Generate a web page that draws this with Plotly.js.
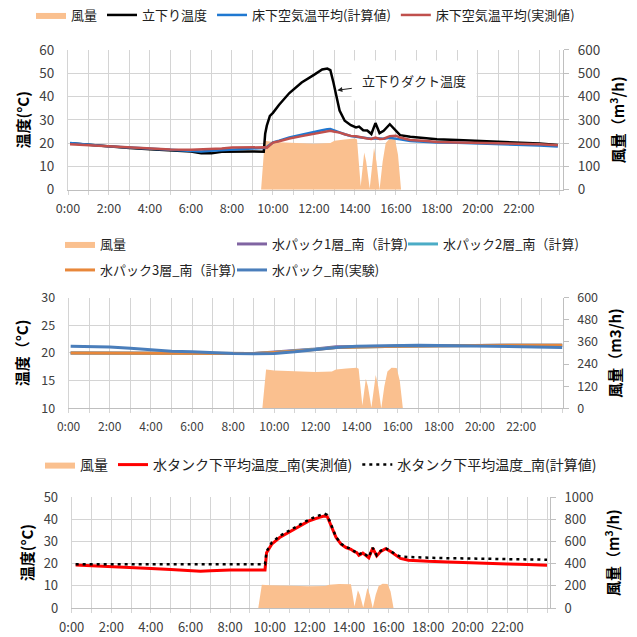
<!DOCTYPE html>
<html><head><meta charset="utf-8">
<script src="https://cdn.plot.ly/plotly-3.0.1.min.js"></script>
<style>html,body{margin:0;padding:0;background:#fff}#chart{width:637px;height:637px}</style>
</head><body><div id="chart"></div>
<script>
// ---- tick labels ----
const hourTicks = [0, 2, 4, 6, 8, 10, 12, 14, 16, 18, 20, 22];
const hourLabels = ["0:00", "2:00", "4:00", "6:00", "8:00", "10:00", "12:00", "14:00", "16:00", "18:00", "20:00", "22:00"];

// ---- airflow (風量, m3/h) ----
const flowHours = [9.42, 9.6, 10.0, 11.0, 12.0, 12.8, 13.0, 13.5, 14.0, 14.1, 14.28, 14.45, 14.55, 14.72, 14.93, 15.05, 15.2, 15.35, 15.5, 15.7, 15.95, 16.1, 16.25];
const flowValues = [0, 210, 205, 200, 197, 200, 210, 216, 220, 215, 15, 160, 120, 5, 180, 120, 0, 120, 200, 220, 218, 150, 0];

// ---- top chart ----
const topHours = [0.1, 1, 2, 3, 4, 5, 6, 6.5, 7, 7.5, 8, 9, 9.55, 9.62, 9.7, 9.85, 10, 10.3, 10.8, 11.4, 12, 12.4, 12.65, 12.8, 12.95, 13.1, 13.25, 13.5, 13.8, 14.05, 14.2, 14.4, 14.6, 14.8, 15.0, 15.2, 15.4, 15.7, 16.0, 16.2, 16.7, 17.5, 18, 19, 20, 21, 22, 23, 23.9];
const ductTemp = [19.9, 19.2, 18.4, 17.9, 17.4, 16.9, 16.4, 15.6, 15.6, 16.3, 16.4, 16.4, 16.3, 24.0, 27.5, 31.7, 33.0, 36.5, 41.5, 46.0, 49.3, 51.6, 52.0, 51.3, 46.0, 40.3, 34.0, 29.6, 27.7, 26.7, 27.1, 25.5, 25.4, 23.9, 28.6, 24.3, 25.3, 28.1, 25.3, 23.4, 22.7, 22.0, 21.7, 21.3, 21.0, 20.6, 20.3, 19.8, 19.2];
const floorCalc = [20.0, 19.3, 18.6, 18.1, 17.6, 17.0, 16.4, 16.4, 16.7, 17.0, 17.4, 17.7, 17.9, 17.9, 18.3, 19.3, 20.3, 21.0, 22.4, 23.6, 24.9, 25.5, 25.9, 26.0, 25.6, 25.0, 24.6, 23.8, 23.0, 22.7, 22.5, 22.3, 22.1, 21.9, 22.1, 21.9, 21.9, 22.3, 22.0, 21.6, 20.9, 20.5, 20.3, 20.1, 19.9, 19.7, 19.3, 19.0, 18.5];
const floorMeas = [19.5, 19.1, 18.6, 18.1, 17.6, 17.3, 17.1, 17.2, 17.3, 17.7, 18.1, 18.3, 18.4, 18.2, 18.0, 19.0, 20.2, 20.8, 22.0, 23.0, 24.1, 24.8, 25.2, 25.3, 25.0, 24.8, 24.5, 23.8, 23.1, 22.9, 22.6, 22.3, 22.0, 21.8, 22.4, 21.8, 21.9, 23.0, 23.2, 22.4, 21.3, 20.9, 20.5, 20.3, 20.1, 20.0, 19.8, 19.5, 19.1];

// ---- middle chart ----
const midHours = [0.1, 1, 2, 3, 4, 5, 6, 7, 8, 9, 10, 11, 12, 13, 14, 15, 16, 17, 18, 19, 20, 21, 22, 23, 24];
const pack1Calc = [20.0, 20.0, 20.0, 20.0, 19.95, 19.95, 19.95, 19.9, 19.9, 19.9, 20.15, 20.4, 20.7, 21.1, 21.15, 21.2, 21.25, 21.3, 21.3, 21.35, 21.35, 21.4, 21.4, 21.4, 21.4];
const pack2Calc = [20.0, 20.0, 20.0, 20.0, 19.95, 19.95, 19.95, 19.9, 19.9, 19.9, 20.1, 20.35, 20.65, 21.0, 21.1, 21.15, 21.2, 21.25, 21.3, 21.35, 21.35, 21.4, 21.4, 21.4, 21.4];
const pack3Calc = [20.0, 20.0, 20.0, 20.0, 19.95, 19.95, 19.95, 19.9, 19.9, 19.9, 20.1, 20.3, 20.6, 21.0, 21.1, 21.15, 21.2, 21.25, 21.3, 21.35, 21.35, 21.4, 21.4, 21.4, 21.4];
const packMeas = [21.2, 21.15, 21.05, 20.85, 20.6, 20.3, 20.2, 20.0, 19.9, 19.85, 19.9, 20.2, 20.6, 21.0, 21.2, 21.3, 21.3, 21.4, 21.35, 21.3, 21.3, 21.25, 21.2, 21.1, 21.0];

// ---- bottom chart ----
const botHours = [0.2, 1, 2, 3, 4, 5, 6, 6.5, 7, 8, 9, 9.76, 9.84, 10.1, 10.5, 11, 11.5, 12, 12.5, 12.75, 12.9, 13.1, 13.35, 13.6, 13.85, 14.1, 14.25, 14.4, 14.5, 14.7, 15.0, 15.2, 15.4, 15.6, 15.85, 16.1, 16.35, 16.6, 17.0, 17.5, 18, 19, 20, 21, 22, 23, 24];
const tankMeas = [19.4, 19.0, 18.7, 18.3, 17.8, 17.4, 16.9, 16.6, 16.8, 17.2, 17.2, 17.2, 25.0, 28.8, 31.8, 34.4, 36.8, 39.4, 40.9, 41.5, 41.3, 37.1, 31.8, 28.8, 27.3, 26.5, 25.5, 25.0, 23.8, 24.8, 22.7, 27.0, 23.5, 25.5, 26.8, 25.5, 23.8, 22.4, 21.6, 21.3, 21.1, 20.8, 20.4, 20.2, 19.9, 19.6, 19.3];
const tankCalc = [19.8, 19.8, 19.8, 19.8, 19.8, 19.8, 19.8, 19.8, 19.8, 19.8, 19.8, 19.8, 25.5, 29.5, 32.5, 35.0, 37.5, 40.0, 41.8, 42.6, 42.0, 37.5, 32.0, 29.0, 27.5, 26.7, 25.8, 25.2, 24.2, 25.0, 23.0, 27.2, 23.8, 25.8, 27.0, 25.8, 24.2, 23.2, 23.0, 22.9, 22.7, 22.5, 22.3, 22.2, 22.0, 21.9, 21.8];

const FONT = "Noto Sans CJK JP, Noto Sans, sans-serif";
const GRID = "#D4D4D4";
const AREA = "#FAC08F";

function xAx(domain, anchor, range, fs) {
  return {
    domain: domain, anchor: anchor, range: range, tickmode: "array",
    tickvals: hourTicks, ticktext: hourLabels, showgrid: true, gridcolor: GRID, gridwidth: 1,
    ticks: "outside", ticklen: 4, tickcolor: GRID, showline: true, linecolor: "#BFBFBF",
    zeroline: false, ticklabelstandoff: 3,
    tickfont: {family: FONT, size: fs, color: "#404040"},
    minor: {tickmode: "linear", tick0: 0, dtick: 1, showgrid: true, gridcolor: GRID, gridwidth: 1, ticks: "outside", ticklen: 4, tickcolor: GRID}
  };
}
function flowAx(domain, anchor, range, dtick, title, fs, so) {
  return {
    domain: domain, anchor: anchor, side: "right", range: range, dtick: dtick, tick0: 0,
    showgrid: false, zeroline: false, showline: true, linecolor: "#BFBFBF",
    ticks: "outside", ticklen: 5, tickcolor: "#BFBFBF", ticklabelstandoff: 6,
    tickfont: {family: FONT, size: fs, color: "#404040"},
    title: {text: title, standoff: so, font: {family: FONT, size: 15, color: "#000", weight: "bold"}}
  };
}
function tempAx(overlay, anchor, range, dtick, title, fs, so) {
  return {
    overlaying: overlay, anchor: anchor, side: "left", range: range, dtick: dtick, tick0: 0,
    showgrid: true, gridcolor: GRID, gridwidth: 1, zeroline: false, showline: true, linecolor: GRID,
    ticks: "", ticklabelstandoff: 10,
    tickfont: {family: FONT, size: fs, color: "#404040"},
    title: {text: title, standoff: so, font: {family: FONT, size: 15, color: "#000", weight: "bold"}}
  };
}
function py(p) { return 1 - p / 637; }

const data = [
  // top
  {x: flowHours, y: flowValues, xaxis: "x", yaxis: "y", type: "scatter", mode: "lines", fill: "tozeroy",
   fillcolor: AREA, line: {width: 0, color: AREA}, name: "風量", legend: "legend"},
  {x: topHours, y: ductTemp, xaxis: "x", yaxis: "y2", type: "scatter", mode: "lines",
   line: {color: "#000000", width: 2.5}, name: "立下り温度", legend: "legend"},
  {x: topHours, y: floorCalc, xaxis: "x", yaxis: "y2", type: "scatter", mode: "lines",
   line: {color: "#1F78D1", width: 2.5}, name: "床下空気温平均(計算値)", legend: "legend"},
  {x: topHours, y: floorMeas, xaxis: "x", yaxis: "y2", type: "scatter", mode: "lines",
   line: {color: "#C0504D", width: 2.5}, name: "床下空気温平均(実測値)", legend: "legend"},
  // middle
  {x: flowHours, y: flowValues, xaxis: "x2", yaxis: "y3", type: "scatter", mode: "lines", fill: "tozeroy",
   fillcolor: AREA, line: {width: 0, color: AREA}, name: "風量", legend: "legend2"},
  {x: midHours, y: pack1Calc, xaxis: "x2", yaxis: "y4", type: "scatter", mode: "lines",
   line: {color: "#8064A2", width: 3}, name: "水パック1層_南（計算)", legend: "legend6"},
  {x: midHours, y: pack2Calc, xaxis: "x2", yaxis: "y4", type: "scatter", mode: "lines",
   line: {color: "#4BACC6", width: 3}, name: "水パック2層_南（計算)", legend: "legend5"},
  {x: midHours, y: pack3Calc, xaxis: "x2", yaxis: "y4", type: "scatter", mode: "lines",
   line: {color: "#E8873A", width: 3}, name: "水パック3層_南（計算)", legend: "legend3"},
  {x: midHours, y: packMeas, xaxis: "x2", yaxis: "y4", type: "scatter", mode: "lines",
   line: {color: "#4A7EBB", width: 3}, name: "水パック_南(実験)", legend: "legend7"},
  // bottom
  {x: flowHours, y: flowValues, xaxis: "x3", yaxis: "y5", type: "scatter", mode: "lines", fill: "tozeroy",
   fillcolor: AREA, line: {width: 0, color: AREA}, name: "風量", legend: "legend4"},
  {x: botHours, y: tankMeas, xaxis: "x3", yaxis: "y6", type: "scatter", mode: "lines",
   line: {color: "#FF0000", width: 3}, name: "水タンク下平均温度_南(実測値)", legend: "legend4"},
  {x: botHours, y: tankCalc, xaxis: "x3", yaxis: "y6", type: "scatter", mode: "lines",
   line: {color: "#000000", width: 2.5, dash: "3px,4px"}, name: "水タンク下平均温度_南(計算値)", legend: "legend4"}
];

const legBase = {orientation: "h", xanchor: "left", yanchor: "middle", bgcolor: "rgba(0,0,0,0)",
  borderwidth: 0, font: {family: FONT, size: 13, color: "#222"}};
function leg(px, pyv, extra) { return Object.assign({}, legBase, {x: px / 637, y: py(pyv)}, extra || {}); }

const layout = {
  width: 637, height: 637, margin: {l: 0, r: 0, t: 0, b: 0},
  paper_bgcolor: "#fff", plot_bgcolor: "#fff",
  font: {family: FONT, color: "#333"},
  showlegend: true,
  xaxis: xAx([68 / 637, 563 / 637], "y", [0, 24.15], 12.5),
  yaxis: flowAx([py(189), py(49)], "x", [0, 600], 100, "風量（m<sup>3</sup>/h)", 13.5, 14),
  yaxis2: tempAx("y", "x", [0, 60], 10, "温度(°C)", 13.5, 6),
  xaxis2: xAx([68.6 / 637, 562.7 / 637], "y3", [0, 24.02], 12),
  yaxis3: flowAx([py(408), py(297)], "x2", [0, 600], 120, "風量（m3/h)", 12.5, 13),
  yaxis4: tempAx("y3", "x2", [10, 30], 5, "温度（°C)", 12.5, 8),
  xaxis3: xAx([71.7 / 637, 550 / 637], "y5", [0, 24.15], 13),
  yaxis5: flowAx([py(608), py(497)], "x3", [0, 1000], 200, "風量（m<sup>3</sup>/h)", 13, 16),
  yaxis6: tempAx("y5", "x3", [0, 50], 10, "温度(°C)", 13, 6),
  legend: leg(31, 14),
  legend2: leg(60, 244),
  legend6: leg(232, 244),
  legend5: leg(403, 244),
  legend3: leg(60, 270),
  legend7: leg(232, 270),
  legend4: leg(40, 465, {font: {family: FONT, size: 14, color: "#222"}}),
  annotations: [{
    x: 13.14, y: 42.7, xref: "x", yref: "y2", text: "立下りダクト温度",
    showarrow: true, ax: 77, ay: -10, arrowhead: 2, arrowsize: 1, arrowwidth: 1, arrowcolor: "#222",
    bgcolor: "#fff", borderpad: 10, font: {family: FONT, size: 13, color: "#222"}
  }]
};

Plotly.newPlot("chart", data, layout, {displayModeBar: false, staticPlot: true});
</script>
</body></html>
